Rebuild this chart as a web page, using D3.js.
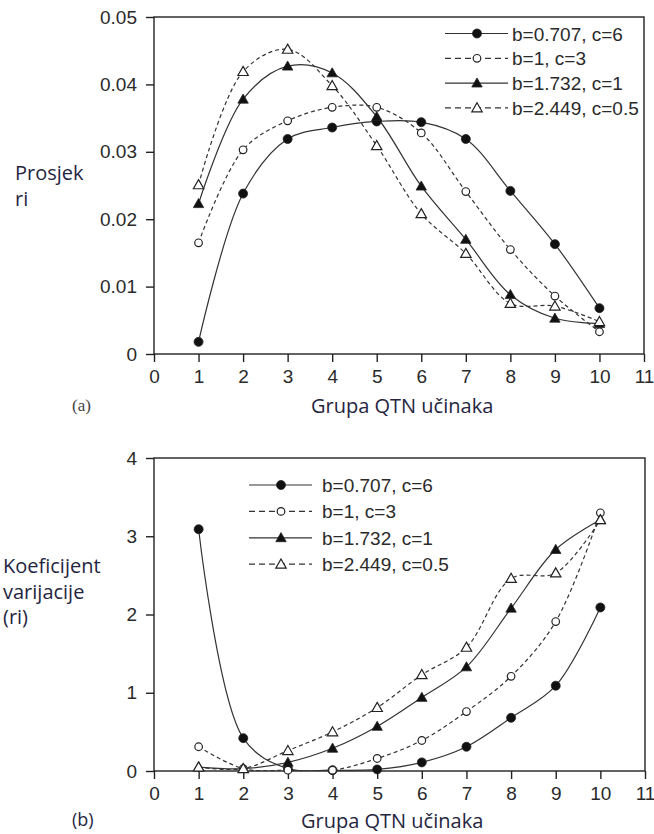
<!DOCTYPE html>
<html>
<head>
<meta charset="utf-8">
<script src="https://cdn.jsdelivr.net/npm/d3@7"></script>
<style>
  body { margin: 0; background: #fff; }
  svg { display: block; }
  .tick text { font-family: "Liberation Sans", Arial, sans-serif; font-size: 19px; fill: #2a2a2a; }
  .tick line { stroke: #222; stroke-width: 1.4; }
  .frame { fill: none; stroke: #222; stroke-width: 1.4; }
  .series-line { fill: none; stroke: #333; stroke-width: 1.2; }
  .legend-text { font-family: "Liberation Sans", Arial, sans-serif; font-size: 19px; fill: #2a2a2a; }
  .axis-title { font-family: "Open Sans", sans-serif; font-size: 20px; fill: #25253f; }
  .panel-tag-a { font-family: "Liberation Serif", serif; font-size: 17px; fill: #444; }
  .panel-tag-b { font-family: "Open Sans", sans-serif; font-size: 18px; fill: #25253f; }
</style>
</head>
<body>
<svg id="chart" width="654" height="834"></svg>
<script>
/*** DATA ***/

var groups = [1, 2, 3, 4, 5, 6, 7, 8, 9, 10];
var series_labels = ["b=0.707, c=6", "b=1, c=3", "b=1.732, c=1", "b=2.449, c=0.5"];
var x_ticks = [0, 1, 2, 3, 4, 5, 6, 7, 8, 9, 10, 11];

// (a) prosjek ri
var mean_b0707 = [0.0018, 0.0238, 0.0319, 0.0336, 0.0345, 0.0344, 0.0319, 0.0242, 0.0163, 0.0068];
var mean_b1    = [0.0165, 0.0303, 0.0346, 0.0366, 0.0366, 0.0328, 0.0241, 0.0155, 0.0086, 0.0033];
var mean_b1732 = [0.0223, 0.0378, 0.0427, 0.0417, 0.0352, 0.0249, 0.0170, 0.0088, 0.0053, 0.0045];
var mean_b2449 = [0.0251, 0.0419, 0.0452, 0.0398, 0.0309, 0.0208, 0.0149, 0.0075, 0.0071, 0.0048];
var mean_ticks = [0, 0.01, 0.02, 0.03, 0.04, 0.05];

// (b) koeficijent varijacije
var cv_b0707 = [3.09, 0.42, 0.03, 0.01, 0.02, 0.11, 0.31, 0.68, 1.09, 2.09];
var cv_b1    = [0.31, 0.03, 0.01, 0.01, 0.16, 0.39, 0.76, 1.21, 1.91, 3.30];
var cv_b1732 = [0.05, 0.03, 0.11, 0.29, 0.57, 0.94, 1.33, 2.08, 2.83, 3.21];
var cv_b2449 = [0.05, 0.03, 0.26, 0.50, 0.81, 1.23, 1.58, 2.46, 2.53, 3.21];
var cv_ticks = [0, 1, 2, 3, 4];

/*** STYLE PER SERIES ***/

var series_style = [
    {dash: null,  marker: "circle",   filled: true},
    {dash: "4,3", marker: "circle",   filled: false},
    {dash: null,  marker: "triangle", filled: true},
    {dash: "4,3", marker: "triangle", filled: false}
];

var svg = d3.select('#chart');

/*** HELPERS ***/

function draw_marker(g, style, cx, cy) {
    if (style.marker == "circle") {
        g.append('circle')
            .attr('cx', cx).attr('cy', cy)
            .attr('r', style.filled ? 4.5 : 3.8)
            .attr('fill', style.filled ? '#111' : '#fff')
            .attr('stroke', '#222')
            .attr('stroke-width', style.filled ? 0.8 : 1.2);
    } else {
        var s = 5.2;
        g.append('path')
            .attr('d', `M${cx},${cy - s} L${cx + s},${cy + s * 0.75} L${cx - s},${cy + s * 0.75} Z`)
            .attr('fill', style.filled ? '#111' : '#fff')
            .attr('stroke', '#222')
            .attr('stroke-width', style.filled ? 0.8 : 1.2);
    }
}

function render_panel(p) {
    var g = svg.append('g');

    var x = d3.scaleLinear().domain([0, 11]).range([p.left, p.right]);
    var y = d3.scaleLinear().domain(p.y_domain).range([p.bottom, p.top]);

    // clip for curves
    svg.append('clipPath').attr('id', p.id + '-clip')
        .append('rect')
        .attr('x', p.left).attr('y', p.top)
        .attr('width', p.right - p.left).attr('height', p.bottom - p.top);

    // axes
    g.append('g')
        .attr('transform', `translate(0, ${p.bottom})`)
        .call(d3.axisBottom(x).tickValues(x_ticks).tickSize(8).tickPadding(8).tickFormat(d3.format('d')))
        .call(a => a.select('.domain').remove());

    g.append('g')
        .attr('transform', `translate(${p.left}, 0)`)
        .call(d3.axisLeft(y).tickValues(p.y_ticks).tickSize(8).tickPadding(9).tickFormat(p.y_format))
        .call(a => a.select('.domain').remove());

    g.selectAll('.tick text').attr('fill', null);
    g.selectAll('.tick line').attr('stroke', null);

    g.append('rect')
        .classed('frame', true)
        .attr('x', p.left).attr('y', p.top)
        .attr('width', p.right - p.left).attr('height', p.bottom - p.top);

    // curves
    var line = d3.line()
        .x((d, i) => x(groups[i]))
        .y(d => y(d))
        .curve(d3.curveCatmullRom.alpha(0.5));

    var lines_g = g.append('g').attr('clip-path', `url(#${p.id}-clip)`);

    for (var i = 0; i < p.series.length; i++) {
        lines_g.append('path')
            .classed('series-line', true)
            .attr('stroke-dasharray', series_style[i].dash)
            .attr('d', line(p.series[i]));
    }

    for (var i = 0; i < p.series.length; i++) {
        for (var j = 0; j < groups.length; j++) {
            draw_marker(g, series_style[i], x(groups[j]), y(p.series[i][j]));
        }
    }

    // legend
    for (var i = 0; i < series_labels.length; i++) {
        var ly = p.legend.y + p.legend.step * i;
        g.append('line')
            .classed('series-line', true)
            .attr('x1', p.legend.x).attr('x2', p.legend.x + 63)
            .attr('y1', ly).attr('y2', ly)
            .attr('stroke-dasharray', series_style[i].dash ? "6,4" : null);
        draw_marker(g, series_style[i], p.legend.x + 32, ly);
        g.append('text')
            .classed('legend-text', true)
            .attr('x', p.legend.x + p.legend.text_dx)
            .attr('y', ly + 7)
            .text(series_labels[i]);
    }

    // titles
    g.append('text')
        .classed('axis-title', true)
        .attr('x', p.xtitle_x).attr('y', p.xtitle_y)
        .text("Grupa QTN učinaka");

    for (var k = 0; k < p.ytitle.length; k++) {
        g.append('text')
            .classed('axis-title', true)
            .attr('x', p.ytitle_x)
            .attr('y', p.ytitle_y + p.ytitle_step * k)
            .text(p.ytitle[k]);
    }

    g.append('text')
        .classed(p.tag_class, true)
        .attr('x', 72).attr('y', p.tag_y)
        .text(p.tag);
}

/*** RENDER ***/

render_panel({
    id: 'pa', left: 154, right: 644, top: 17, bottom: 354,
    y_domain: [0, 0.05], y_ticks: mean_ticks,
    y_format: d => d === 0 ? "0" : d3.format(".2f")(d),
    series: [mean_b0707, mean_b1, mean_b1732, mean_b2449],
    legend: {x: 445, y: 33.5, step: 24.8, text_dx: 67},
    xtitle_x: 311, xtitle_y: 413,
    ytitle: ["Prosjek", "ri"], ytitle_x: 15, ytitle_y: 180, ytitle_step: 26,
    tag: "(a)", tag_class: 'panel-tag-a', tag_y: 411
});

render_panel({
    id: 'pb', left: 154, right: 645, top: 458, bottom: 771,
    y_domain: [0, 4], y_ticks: cv_ticks,
    y_format: d3.format('d'),
    series: [cv_b0707, cv_b1, cv_b1732, cv_b2449],
    legend: {x: 249, y: 485, step: 26.4, text_dx: 73},
    xtitle_x: 301, xtitle_y: 828,
    ytitle: ["Koeficijent", "varijacije", "(ri)"], ytitle_x: 3, ytitle_y: 573, ytitle_step: 25.5,
    tag: "(b)", tag_class: 'panel-tag-b', tag_y: 826
});
</script>
</body>
</html>
